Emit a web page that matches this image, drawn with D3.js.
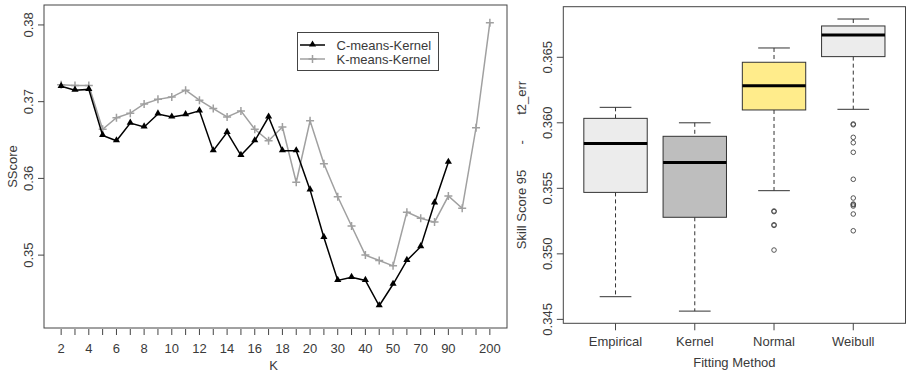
<!DOCTYPE html>
<html>
<head>
<meta charset="utf-8">
<script src="https://cdn.jsdelivr.net/npm/d3@7"></script>
<style>
  html, body { margin: 0; padding: 0; background: #fff; }
  svg { display: block; font-family: "Liberation Sans", Arial, sans-serif; }
</style>
</head>
<body>
<svg id="chart" width="906" height="373"></svg>
<script>
// ---------------- Data: left panel ----------------
const kValues = [2,3,4,5,6,7,8,9,10,11,12,13,14,15,16,17,18,19,20,25,30,35,40,45,50,60,70,80,90,100,150,200];
const kLabelsShown = [2,4,6,8,10,12,14,16,18,20,30,40,50,70,90,200];
const cmeansKernel = [0.3720,0.3715,0.3716,0.3656,0.3649,0.3672,0.3667,0.3684,0.3680,0.3683,0.3688,0.3636,0.3660,0.3630,0.3649,0.3680,0.3636,0.3636,0.3585,0.3523,0.3467,0.3471,0.3467,0.3434,0.3462,0.3493,0.3511,0.3568,0.3621];
const kmeansKernel = [0.3722,0.3721,0.3721,0.3664,0.3679,0.3685,0.3697,0.3703,0.3706,0.3715,0.3702,0.3691,0.3680,0.3688,0.3664,0.3649,0.3667,0.3595,0.3675,0.3619,0.3576,0.3538,0.3500,0.3493,0.3486,0.3556,0.3548,0.3543,0.3577,0.3561,0.3666,0.3803];
const leftYTicks = [0.35, 0.36, 0.37, 0.38];
const seriesNames = ["C-means-Kernel", "K-means-Kernel"];

// ---------------- Data: right panel ----------------
const methods = ["Empirical", "Kernel", "Normal", "Weibull"];
const whiskerLow  = [0.34673, 0.34563, 0.35482, 0.36103];
const q1          = [0.35469, 0.35279, 0.36098, 0.36505];
const medians     = [0.35843, 0.35698, 0.36283, 0.36670];
const q3          = [0.36034, 0.35897, 0.36462, 0.36739];
const whiskerHigh = [0.36118, 0.36000, 0.36571, 0.36792];
const outliersNormal  = [0.35327, 0.35322, 0.35222, 0.35217, 0.35029];
const outliersWeibull = [0.35991, 0.35985, 0.35889, 0.35848, 0.35775, 0.35569, 0.35426, 0.35380, 0.35375, 0.35365, 0.35304, 0.35176];
const boxFills = ["#ececec", "#bebebe", "#ffec8b", "#ececec"];
const rightYTicks = [0.345, 0.350, 0.355, 0.360, 0.365];

const svg = d3.select("#chart");
const textCol = "#3a3a3a";
const axisCol = "#444";
const fs = "13px";

// ================= LEFT PANEL =================
const L = { x0: 44, x1: 507, y0: 5, y1: 328 };
const xL = d3.scalePoint().domain(kValues).range([L.x0, L.x1]).padding(1.24);
const yL = d3.scaleLinear().domain([0.3405, 0.3826]).range([L.y1, L.y0]);

const gL = svg.append("g");
gL.append("rect").attr("x", L.x0).attr("y", L.y0).attr("width", L.x1 - L.x0).attr("height", L.y1 - L.y0)
  .attr("fill", "none").attr("stroke", axisCol).attr("stroke-width", 1);

leftYTicks.forEach(t => {
  const y = yL(t);
  gL.append("line").attr("x1", L.x0 - 6).attr("x2", L.x0).attr("y1", y).attr("y2", y).attr("stroke", axisCol);
  gL.append("text").attr("transform", `translate(33,${y}) rotate(-90)`).attr("text-anchor", "middle")
    .attr("font-size", fs).attr("fill", textCol).text(t.toFixed(2));
});
gL.append("text").attr("transform", `translate(16.5,${(L.y0 + L.y1) / 2}) rotate(-90)`).attr("text-anchor", "middle")
  .attr("font-size", fs).attr("fill", textCol).text("SScore");

kValues.forEach(k => {
  const x = xL(k);
  gL.append("line").attr("x1", x).attr("x2", x).attr("y1", L.y1 + 1).attr("y2", L.y1 + 7).attr("stroke", axisCol);
});
kLabelsShown.forEach(k => {
  gL.append("text").attr("x", xL(k)).attr("y", 352.5).attr("text-anchor", "middle")
    .attr("font-size", fs).attr("fill", textCol).text(k);
});
gL.append("text").attr("x", (L.x0 + L.x1) / 2 - 2).attr("y", 369.5).attr("text-anchor", "middle")
  .attr("font-size", fs).attr("fill", textCol).text("K");

const lineGen = d3.line().x(d => xL(d[0])).y(d => yL(d[1]));
const kmData = kmeansKernel.map((v, i) => [kValues[i], v]);
const cmData = cmeansKernel.map((v, i) => [kValues[i], v]);
const grayCol = "#a0a0a0";

gL.append("path").datum(kmData).attr("d", lineGen).attr("fill", "none").attr("stroke", grayCol).attr("stroke-width", 1.5);
function plus(g, x, y, s) {
  g.append("path").attr("d", `M${x - s},${y}H${x + s}M${x},${y - s}V${y + s}`).attr("stroke", grayCol).attr("stroke-width", 1.5).attr("fill", "none");
}
kmData.forEach(d => plus(gL, xL(d[0]), yL(d[1]), 4));

gL.append("path").datum(cmData).attr("d", lineGen).attr("fill", "none").attr("stroke", "#000").attr("stroke-width", 1.5);
const tri = d3.symbol().type(d3.symbolTriangle).size(22);
cmData.forEach(d => {
  gL.append("path").attr("d", tri()).attr("transform", `translate(${xL(d[0])},${yL(d[1]) - 0.5})`).attr("fill", "#000");
});

// legend
const lg = gL.append("g");
lg.append("rect").attr("x", 297.5).attr("y", 32.5).attr("width", 141).attr("height", 38)
  .attr("fill", "#fff").attr("stroke", axisCol).attr("stroke-width", 1);
[45, 59].forEach((yy, i) => {
  const col = i === 0 ? "#000" : grayCol;
  lg.append("line").attr("x1", 300).attr("x2", 325).attr("y1", yy).attr("y2", yy).attr("stroke", col).attr("stroke-width", 1.5);
  if (i === 0) lg.append("path").attr("d", tri()).attr("transform", `translate(312.5,${yy - 0.5})`).attr("fill", "#000");
  else plus(lg, 312.5, yy, 4);
  lg.append("text").attr("x", 336.5).attr("y", yy + 4.5).attr("font-size", fs).attr("fill", textCol).text(seriesNames[i]);
});

// ================= RIGHT PANEL =================
const R = { x0: 563.3, x1: 905.5, y0: 6.7, y1: 323.3 };
const xR = d3.scalePoint().domain(methods).range([R.x0, R.x1]).padding(0.659);
const yR = d3.scaleLinear().domain([0.3447, 0.36886]).range([R.y1, R.y0]);
const stepR = xR.step();
const boxW = stepR * 0.8, capW = boxW / 2;

const gR = svg.append("g");
gR.append("rect").attr("x", R.x0).attr("y", R.y0).attr("width", R.x1 - R.x0).attr("height", R.y1 - R.y0)
  .attr("fill", "none").attr("stroke", axisCol).attr("stroke-width", 1);

rightYTicks.forEach(t => {
  const y = yR(t);
  gR.append("line").attr("x1", R.x0 - 6.5).attr("x2", R.x0).attr("y1", y).attr("y2", y).attr("stroke", axisCol);
  gR.append("text").attr("transform", `translate(551.5,${y}) rotate(-90)`).attr("text-anchor", "middle")
    .attr("font-size", fs).attr("fill", textCol).text(t.toFixed(3));
});
gR.append("text").attr("transform", `translate(525.5,${(R.y0 + R.y1) / 2}) rotate(-90)`).attr("text-anchor", "middle")
  .attr("font-size", fs).attr("fill", textCol).style("white-space", "pre").text("Skill Score 95       -       t2_err");

methods.forEach((m, i) => {
  const x = xR(m);
  gR.append("line").attr("x1", x).attr("x2", x).attr("y1", R.y1).attr("y2", R.y1 + 7).attr("stroke", axisCol);
  gR.append("text").attr("x", x).attr("y", 346).attr("text-anchor", "middle").attr("font-size", fs).attr("fill", textCol).text(m);

  gR.append("line").attr("x1", x).attr("x2", x).attr("y1", yR(whiskerHigh[i])).attr("y2", yR(q3[i]))
    .attr("stroke", "#333").attr("stroke-dasharray", "4,3");
  gR.append("line").attr("x1", x).attr("x2", x).attr("y1", yR(q1[i])).attr("y2", yR(whiskerLow[i]))
    .attr("stroke", "#333").attr("stroke-dasharray", "4,3");
  [whiskerHigh[i], whiskerLow[i]].forEach(v => {
    gR.append("line").attr("x1", x - capW / 2).attr("x2", x + capW / 2).attr("y1", yR(v)).attr("y2", yR(v)).attr("stroke", "#333");
  });
  gR.append("rect").attr("x", x - boxW / 2).attr("y", yR(q3[i])).attr("width", boxW).attr("height", yR(q1[i]) - yR(q3[i]))
    .attr("fill", boxFills[i]).attr("stroke", "#333").attr("stroke-width", 1);
  gR.append("line").attr("x1", x - boxW / 2).attr("x2", x + boxW / 2).attr("y1", yR(medians[i])).attr("y2", yR(medians[i]))
    .attr("stroke", "#000").attr("stroke-width", 3);
});
gR.append("text").attr("x", (R.x0 + R.x1) / 2).attr("y", 366.5).attr("text-anchor", "middle")
  .attr("font-size", fs).attr("fill", textCol).text("Fitting Method");

[["Normal", outliersNormal], ["Weibull", outliersWeibull]].forEach(([m, arr]) => {
  arr.forEach(v => {
    gR.append("circle").attr("cx", xR(m)).attr("cy", yR(v)).attr("r", 2.3)
      .attr("fill", "none").attr("stroke", "#444").attr("stroke-width", 0.9);
  });
});
</script>
</body>
</html>
